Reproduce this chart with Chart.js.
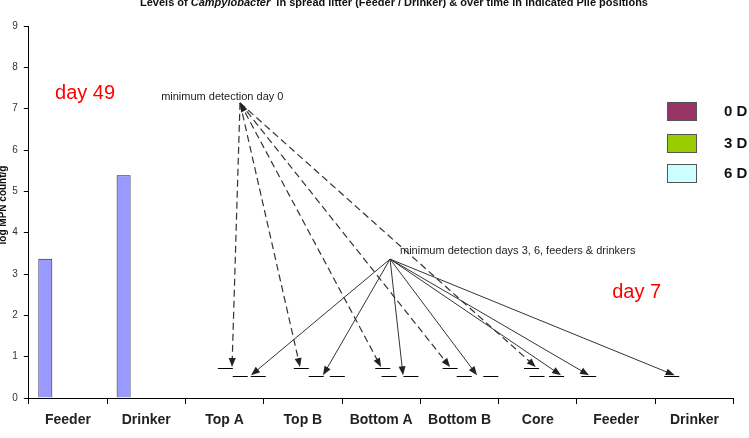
<!DOCTYPE html>
<html>
<head>
<meta charset="utf-8">
<script src="https://cdn.jsdelivr.net/npm/chart.js@4.4.1/dist/chart.umd.min.js"></script>
<style>
  body { margin: 0; background: #fff; }
  #wrap { width: 749px; height: 438px; }
</style>
</head>
<body>
<div id="wrap"><canvas id="c"></canvas></div>
<script>
// categories + values
const categories = ["Feeder", "Drinker", "Top A", "Top B", "Bottom A", "Bottom B", "Core", "Feeder", "Drinker"];
const spreadLitter = [3.37, 5.39, null, null, null, null, null, null, null];
const day0 = [null, null, null, null, null, null, null, null, null];
const day3 = [null, null, null, null, null, null, null, null, null];
const day6 = [null, null, null, null, null, null, null, null, null];
const seriesLabels = ["0 D", "3 D", "6 D"];
const yTicks = [0, 1, 2, 3, 4, 5, 6, 7, 8, 9];

// detection limits (x in category units, y in log MPN)
const day0LimitX = [2.01, 2.98, 4.02, 4.88, 5.92];
const day0Limit = 0.73;
const laterLimitX = [2.20, 2.43, 3.17, 3.44, 4.10, 4.38, 5.06, 5.40, 5.99, 6.24, 6.65, 7.71];
const laterLimit = 0.53;

// arrows from the notes to the limit marks
const day0Note = [2.197, 7.14];
const day0TipX = [2.095, 2.964, 3.998, 4.879, 5.974];
const day0TipY = 0.75;
const laterNote = [4.113, 3.36];
const laterTipX = [2.338, 3.257, 4.279, 5.224, 6.297, 6.654, 7.748];
const laterTipY = 0.55;

const colors = ["#9999FF", "#993366", "#99CC00", "#CCFFFF"];

function arrow(ctx, x1, y1, x2, y2, dash) {
  const a = Math.atan2(y2 - y1, x2 - x1);
  const len = 9, hw = 3.5;
  ctx.setLineDash(dash);
  ctx.beginPath();
  ctx.moveTo(x1, y1);
  ctx.lineTo(x2 - Math.cos(a) * len * 0.8, y2 - Math.sin(a) * len * 0.8);
  ctx.stroke();
  ctx.setLineDash([]);
  head(ctx, x2, y2, a, len, hw);
}

function head(ctx, x, y, a, len, hw) {
  ctx.beginPath();
  ctx.moveTo(x, y);
  ctx.lineTo(x - Math.cos(a) * len - Math.sin(a) * hw, y - Math.sin(a) * len + Math.cos(a) * hw);
  ctx.lineTo(x - Math.cos(a) * len + Math.sin(a) * hw, y - Math.sin(a) * len - Math.cos(a) * hw);
  ctx.closePath();
  ctx.fill();
}

const annotations = {
  id: "annotations",
  afterDatasetsDraw(chart) {
    const { ctx } = chart;
    const x = chart.scales.x, y = chart.scales.y;
    const x0 = x.getPixelForValue(0), step = x.getPixelForValue(1) - x0;
    const px = (v) => x0 + v * step;
    const py = (v) => y.getPixelForValue(v);
    ctx.save();

    // detection limit marks
    ctx.strokeStyle = "#000";
    ctx.lineWidth = 1;
    const mark = (v, val) => {
      ctx.beginPath();
      ctx.moveTo(px(v) - 7.5, Math.round(py(val)) + 0.5);
      ctx.lineTo(px(v) + 7.5, Math.round(py(val)) + 0.5);
      ctx.stroke();
    };
    day0LimitX.forEach((v) => mark(v, day0Limit));
    laterLimitX.forEach((v) => mark(v, laterLimit));

    ctx.strokeStyle = "#333";
    ctx.fillStyle = "#222";
    ctx.lineWidth = 1.2;
    const ox = px(day0Note[0]), oy = py(day0Note[1]);
    day0TipX.forEach((tx) => arrow(ctx, ox, oy, px(tx), py(day0TipY), [7, 4]));
    // small head pointing back at the day 0 note
    head(ctx, ox, oy, Math.atan2(oy - py(day0TipY), ox - px(day0TipX[2])), 9, 3.5);
    ctx.lineWidth = 1;
    const sx = px(laterNote[0]), sy = py(laterNote[1]);
    laterTipX.forEach((tx) => arrow(ctx, sx, sy, px(tx), py(laterTipY), []));

    ctx.fillStyle = "#222";
    ctx.font = "11px 'Liberation Sans', Arial, sans-serif";
    ctx.textBaseline = "middle";
    ctx.textAlign = "left";
    ctx.fillText("minimum detection day 0", px(1.19), py(7.28));
    ctx.fillText("minimum detection days 3, 6, feeders & drinkers", px(4.24), py(3.56));

    ctx.fillStyle = "#FF0000";
    ctx.font = "20px 'Liberation Sans', Arial, sans-serif";
    ctx.fillText("day 49", px(-0.165), py(7.36));
    ctx.fillText("day 7", px(6.95), py(2.55));
    ctx.restore();
  },
  afterDraw(chart) {
    const { ctx } = chart;
    ctx.save();
    // title, cut at the top like the source
    const parts = [
      ["bold 11px 'Liberation Sans', Arial, sans-serif", "Levels of "],
      ["italic bold 11px 'Liberation Sans', Arial, sans-serif", "Campylobacter"],
      ["bold 11px 'Liberation Sans', Arial, sans-serif", "  in spread litter (Feeder / Drinker) & over time in indicated Pile positions"],
    ];
    let total = 0;
    parts.forEach(([f, t]) => { ctx.font = f; total += ctx.measureText(t).width; });
    let x = 394 - total / 2;
    ctx.fillStyle = "#111";
    ctx.textBaseline = "alphabetic";
    ctx.textAlign = "left";
    parts.forEach(([f, t]) => { ctx.font = f; ctx.fillText(t, x, 6); x += ctx.measureText(t).width; });

    // y axis title
    ctx.save();
    ctx.translate(3, 205);
    ctx.rotate(-Math.PI / 2);
    ctx.font = "bold 10px 'Liberation Sans', Arial, sans-serif";
    ctx.textAlign = "center";
    ctx.textBaseline = "middle";
    ctx.fillText("log MPN count/g", 0, 0);
    ctx.restore();

    // legend on the right, cut by the edge
    const boxY = [102, 134, 164];
    seriesLabels.forEach((lab, i) => {
      ctx.fillStyle = colors[i + 1];
      ctx.fillRect(667, boxY[i], 30, 19);
      ctx.strokeStyle = "#555";
      ctx.lineWidth = 1;
      ctx.strokeRect(667.5, boxY[i] + 0.5, 29, 18);
      ctx.fillStyle = "#111";
      ctx.font = "bold 15px 'Liberation Sans', Arial, sans-serif";
      ctx.textBaseline = "middle";
      ctx.fillText(lab, 724, boxY[i] + 10);
    });
    ctx.restore();
  },
};

const barSet = (label, data, color) => ({
  label: label,
  data: data,
  backgroundColor: color,
  borderColor: "#1a1a4a",
  borderWidth: 1,
  categoryPercentage: 0.771,
  barPercentage: 0.927,
});

new Chart(document.getElementById("c"), {
  type: "bar",
  data: {
    labels: categories,
    datasets: [
      barSet("spread litter", spreadLitter, colors[0]),
      barSet(seriesLabels[0], day0, colors[1]),
      barSet(seriesLabels[1], day3, colors[2]),
      barSet(seriesLabels[2], day6, colors[3]),
    ],
  },
  options: {
    responsive: true,
    maintainAspectRatio: false,
    animation: false,
    layout: { padding: { top: 26, right: 15.4, left: 0, bottom: 0 } },
    plugins: { legend: { display: false }, tooltip: { enabled: false } },
    scales: {
      x: {
        grid: { display: true, drawOnChartArea: false, offset: true, tickLength: 6, color: "#000" },
        border: { color: "#000", width: 1 },
        ticks: { color: "#222", padding: 8, font: { family: "'Liberation Sans', Arial", size: 14, weight: "bold" } },
        afterFit: (s) => { s.height = 40; },
      },
      y: {
        min: 0,
        max: 9,
        afterBuildTicks: (s) => { s.ticks = yTicks.map((v) => ({ value: v })); },
        grid: { display: true, drawOnChartArea: false, tickLength: 5, color: "#000" },
        border: { color: "#000", width: 1 },
        ticks: { color: "#333", padding: 6, font: { family: "'Liberation Sans', Arial", size: 10 } },
        afterFit: (s) => { s.width = 28.8; },
      },
    },
  },
  plugins: [annotations],
});
</script>
</body>
</html>
